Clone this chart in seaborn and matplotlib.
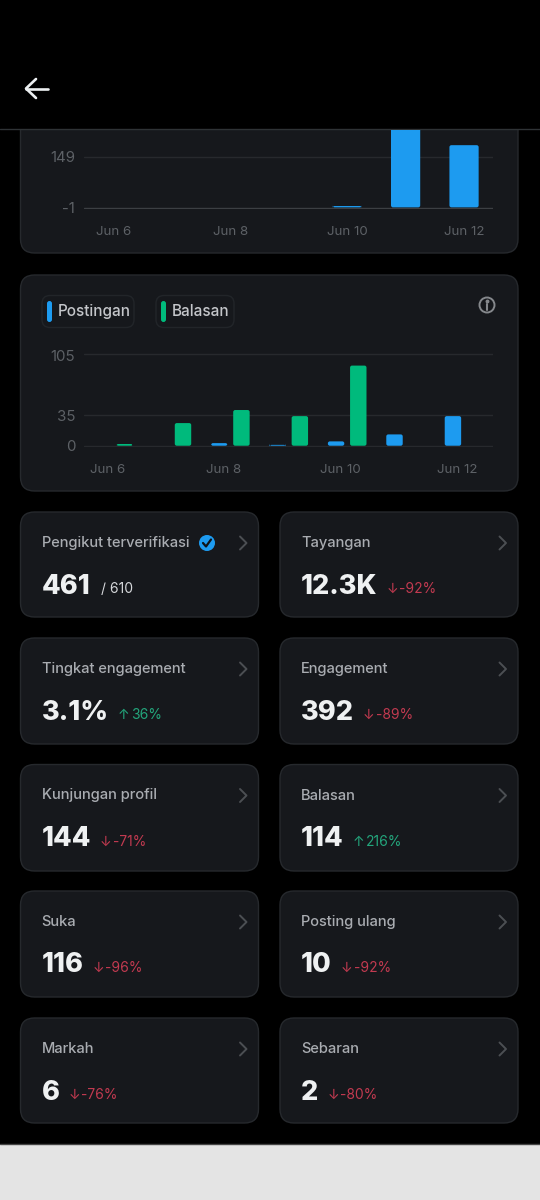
"""Recreate the post analytics screen: two bar charts plus metric cards."""

import matplotlib
matplotlib.use("Agg")
import matplotlib.pyplot as plt
from matplotlib.patches import Circle, FancyBboxPatch, Rectangle
from matplotlib.transforms import ScaledTranslation
import pandas as pd
import seaborn as sns

# data
days = ["Jun 6", "Jun 7", "Jun 8", "Jun 9", "Jun 10", "Jun 11", "Jun 12"]
tick_days = ["Jun 6", "Jun 8", "Jun 10", "Jun 12"]
top_values = [0, 0, 0, 0, 4, 300, 184]
top_ticks = [-1, 149]
postingan = [0, 0, 3, 1, 5, 13, 34]
balasan = [2, 26, 41, 34, 92, 0, 0]
bottom_ticks = [0, 35, 105]

titles = ["Pengikut terverifikasi", "Tayangan", "Tingkat engagement", "Engagement",
          "Kunjungan profil", "Balasan", "Suka", "Posting ulang", "Markah", "Sebaran"]
numbers = ["461", "12.3K", "3.1%", "392", "144", "114", "116", "10", "6", "2"]
changes = ["/ 610", "-92%", "36%", "-89%", "-71%", "216%", "-96%", "-92%", "-76%", "-80%"]

BLUE = "#1d9bf0"
GREEN = "#00ba7c"
RED = "#c23a50"
UP = "#23a67c"
CARD = "#16181c"
EDGE = "#26292d"
GRID = "#27292d"
MUTED = "#5d6166"
LABEL = "#a9acb1"
CHEVRON = "#4c4f53"

sns.set_theme(style="dark")
plt.rcParams["font.family"] = ["Inter", "DejaVu Sans"]

fig = plt.figure(figsize=(5.4, 12), dpi=100, facecolor="black")
ui = fig.add_axes([0, 0, 1, 1])
ui.set_xlim(0, 540)
ui.set_ylim(1200, 0)
ui.axis("off")


def card(x0, y0, x1, y1, radius=14, fc=CARD, ec=EDGE):
    ui.add_patch(FancyBboxPatch((x0, y0), x1 - x0, y1 - y0,
                                boxstyle=f"round,pad=0,rounding_size={radius}",
                                fc=fc, ec=ec, lw=1))


def chart_axes(x0, y0, x1, y1):
    ax = fig.add_axes([x0 / 540, 1 - y1 / 1200, (x1 - x0) / 540, (y1 - y0) / 1200])
    ax.patch.set_visible(False)
    sns.despine(ax=ax, left=True, bottom=True)
    return ax


def round_bars(ax, px_x, px_y, radius=2):
    # swap the square seaborn bars for rounded ones at the same data position
    for bar in list(ax.patches):
        x, w, h = bar.get_x(), bar.get_width(), bar.get_height()
        color = bar.get_facecolor()
        bar.remove()
        if h <= 0:
            continue
        ax.add_patch(FancyBboxPatch((x, 0), w, h,
                                    boxstyle=f"round,pad=0,rounding_size={radius * px_x}",
                                    mutation_aspect=px_y / px_x,
                                    fc=color, ec="none", zorder=3))


def style_axes(ax, yticks, xticks, label_pad, y_shift):
    ax.set_xlim(-0.5, 6.5)
    ax.set_xticks(xticks, tick_days)
    ax.set_yticks(yticks, [str(t) for t in yticks])
    ax.set_xlabel("")
    ax.set_ylabel("")
    ax.grid(axis="y", color=GRID, lw=1, zorder=0)
    ax.grid(axis="x", visible=False)
    ax.tick_params(axis="both", length=0, labelcolor=MUTED)
    ax.tick_params(axis="x", pad=label_pad, labelsize=9.6)
    ax.tick_params(axis="y", pad=6.5, labelsize=10.8)
    ax.set_axisbelow(True)
    # the app draws some y labels a little under their grid line
    for lab, shift in zip(ax.get_yticklabels(), y_shift):
        lab.set_verticalalignment("center")
        lab.set_transform(lab.get_transform() + ScaledTranslation(0, -shift / 100, fig.dpi_scale_trans))


# top chart card, cut off by the header
card(20.5, 90, 518, 253)

top_df = pd.DataFrame({"day": days, "count": top_values})
ax_top = chart_axes(84.25, 129.5, 493.25, 208.7)
sns.barplot(data=top_df, x="day", y="count", color=BLUE, width=0.5, saturation=1, ax=ax_top)
top_scale = 150 / 50.7
ax_top.set_ylim(-1 - 1.0 * top_scale, -1 + 78.2 * top_scale)
style_axes(ax_top, top_ticks, [0, 2, 4, 6], 12.5, [1, 1])
round_bars(ax_top, 7 / 409, top_scale)
ax_top.get_ygridlines()[0].set_color("#3c3f43")

# second chart card
card(20.5, 275, 518, 491)
reply_df = pd.DataFrame({
    "day": days * 2,
    "count": postingan + balasan,
    "kind": ["Postingan"] * len(days) + ["Balasan"] * len(days),
})
ax_mid = chart_axes(84.25, 353.4, 493.25, 446.6)
sns.barplot(data=reply_df, x="day", y="count", hue="kind",
            palette={"Postingan": BLUE, "Balasan": GREEN},
            width=0.76, gap=0.26, saturation=1, legend=False, ax=ax_mid)
ax_mid.set_ylim(-1, 106)
style_axes(ax_mid, bottom_ticks, [-0.1, 1.89, 3.89, 5.89], 12.5, [1, 1.5, 3])
round_bars(ax_mid, 7 / 409, 1 / 0.8705)

# legend chips
for x0, x1, color, name in [(42, 134, BLUE, "Postingan"), (156, 234, GREEN, "Balasan")]:
    card(x0, 295.5, x1, 327.5, radius=8, fc=CARD, ec="#222529")
    ui.add_patch(FancyBboxPatch((x0 + 5, 301), 5, 21, boxstyle="round,pad=0,rounding_size=2.5",
                                fc=color, ec="none"))
    ui.text(x0 + 16, 311.5, name, color="#c4c6ca", fontsize=11, fontweight="medium",
            va="center", ha="left")

# info icon
ui.add_patch(Circle((487, 305), 7.5, fc="none", ec="#85888c", lw=1.4))
ui.plot([487, 487], [304, 309.5], color="#85888c", lw=1.5)
ui.plot([487], [301], marker="o", ms=1.8, color="#85888c")

# metric cards
row_tops = [512, 638, 764.5, 891, 1018]
row_bottoms = [617, 744, 871, 997, 1123]
col_lefts = [20.5, 280]
renderer = fig.canvas.get_renderer()

for i, title in enumerate(titles):
    row, col = i // 2, i % 2
    x0, y0 = col_lefts[col], row_tops[row]
    x1, y1 = x0 + 238, row_bottoms[row]
    card(x0, y0, x1, y1)
    ui.text(x0 + 21, y0 + 31, title, color=LABEL, fontsize=10.55, fontweight="medium",
            va="center", ha="left")
    num = ui.text(x0 + 21, y0 + 74.5, numbers[i], color="#eff1f2", fontsize=19.5, fontweight=800,
                  va="center", ha="left")
    # chevron
    ui.plot([x0 + 219.5, x0 + 226, x0 + 219.5], [y0 + 24.5, y0 + 31, y0 + 37.5],
            color=CHEVRON, lw=1.4, solid_capstyle="round")
    end = ui.transData.inverted().transform(num.get_window_extent(renderer))[1][0]
    text = changes[i]
    if text.startswith("/"):
        ui.text(end + 11, y0 + 77, text, color="#d5d7da", fontsize=10, va="center", ha="left")
        continue
    color = RED if text.startswith("-") else UP
    arrow = "↓" if text.startswith("-") else "↑"
    ui.text(end + 9, y0 + 77, arrow, color=color, fontsize=10, va="center", ha="left")
    ui.text(end + 22, y0 + 77, text, color=color, fontsize=10, va="center", ha="left")

# verified badge
ui.add_patch(Circle((207, 543), 8, fc=BLUE, ec="none"))
ui.plot([203, 206, 211], [543, 546.5, 539.5], color="#0f1419", lw=1.6)

# header over the scrolled content
ui.add_patch(Rectangle((0, 0), 540, 129, fc="black", ec="none", zorder=5))
ui.plot([0, 540], [129, 129], color="#2f3336", lw=1, zorder=6)
ui.plot([26, 48], [88.5, 88.5], color="#eceff1", lw=1.9, zorder=6)
ui.plot([36, 26, 36], [79, 88.5, 98], color="#eceff1", lw=1.9, zorder=6)

# light bar at the bottom of the screen
ui.add_patch(Rectangle((0, 1144), 540, 56, fc="#e4e4e4", ec="none", zorder=5))
ui.plot([0, 540], [1143.5, 1143.5], color="#444444", lw=1, zorder=6)

fig.savefig("out.png", dpi=100, facecolor="black")
